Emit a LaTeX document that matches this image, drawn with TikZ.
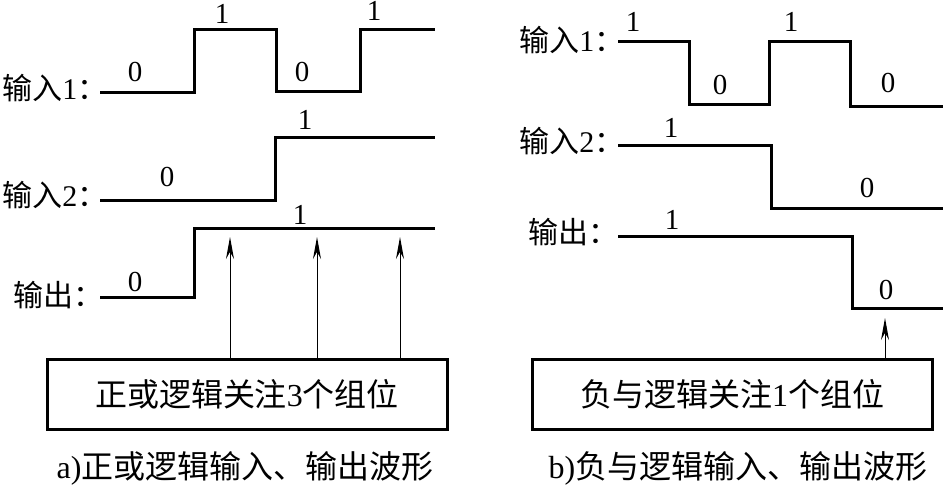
\documentclass[tikz,border=0pt]{standalone}
\usepackage{fontspec}
\setmainfont{Liberation Serif}
\newfontfamily\cjk{Noto Sans CJK SC}
\newcommand\zh[1]{{\cjk #1}}
\usetikzlibrary{arrows.meta}
\begin{document}
\begin{tikzpicture}[x=.5pt,y=-.5pt,line join=miter,
	wave/.style={line width=1.5pt},
	bit/.style={inner sep=0pt,font=\fontsize{14.5}{14.5}\selectfont},
	lbl/.style={anchor=west,inner sep=0pt,font=\fontsize{15}{15}\selectfont},
	tbox/.style={draw,line width=1.5pt,minimum width=200pt,minimum height=35pt,
		inner sep=0pt,font=\fontsize{16}{16}\selectfont},
	captext/.style={inner sep=0pt,font=\fontsize{16}{16}\selectfont},
	sig/.style={line width=.5pt,-{Stealth[length=11pt,width=4pt]}}]
	\useasboundingbox (0,0) rectangle (943,487);
	% a) positive OR
	\node[lbl] (ina1) at (2,88) {\zh{输入}1\zh{：}};
	\node[lbl] (ina2) at (2,195) {\zh{输入}2\zh{：}};
	\node[lbl] (outa) at (13,295) {\zh{输出：}};
	\draw[wave] (100,92)--(194,92)--(194,29)--(276,29)--(276,91)
		--(360,91)--(360,29)--(435,29);
	\draw[wave] (100,200)--(275,200)--(275,137)--(435,137);
	\draw[wave] (100,297)--(194,297)--(194,228)--(435,228);
	\foreach \x/\y/\t [count=\i] in {135/72/0,222/14/1,302/72/0,374/11/1,
		167/177/0,305/120/1,135/282/0,300/215/1}
		\node[bit] (ba\i) at (\x,\y) {\t};
	\node[tbox] (boxa) at (247,394) {\zh{正或逻辑关注}3\zh{个组位}};
	\foreach \x [count=\i] in {230,317,400}{
		\coordinate (pa\i) at (\x,237);
		\draw[sig] (boxa.north -| pa\i) -- (pa\i);
	}
	\node[captext] (capa) at (245,468) {a)\zh{正或逻辑输入、输出波形}};
	% b) negative AND
	\node[lbl] (inb1) at (519,40) {\zh{输入}1\zh{：}};
	\node[lbl] (inb2) at (519,141) {\zh{输入}2\zh{：}};
	\node[lbl] (outb) at (528,232) {\zh{输出：}};
	\draw[wave] (618,41)--(689,41)--(689,104)--(769,104)--(769,41)
		--(850,41)--(850,106)--(943,106);
	\draw[wave] (618,145)--(771,145)--(771,208)--(943,208);
	\draw[wave] (618,236)--(852,236)--(852,308)--(943,308);
	\foreach \x/\y/\t [count=\i] in {633/22/1,720/85/0,791/22/1,888/83/0,
		671/128/1,867/188/0,672/220/1,886/290/0}
		\node[bit] (bb\i) at (\x,\y) {\t};
	\node[tbox] (boxb) at (732,394) {\zh{负与逻辑关注}1\zh{个组位}};
	\coordinate (pb) at (885,318);
	\draw[sig] (boxb.north -| pb) -- (pb);
	\node[captext] (capb) at (738,468) {b)\zh{负与逻辑输入、输出波形}};
\end{tikzpicture}
\end{document}
